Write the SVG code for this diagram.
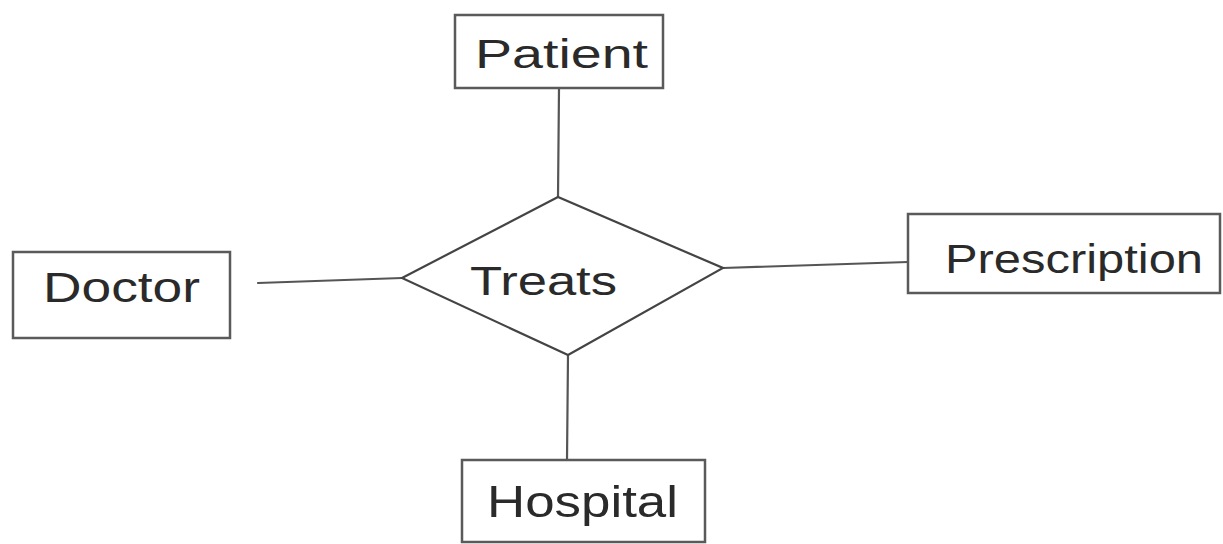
<svg xmlns="http://www.w3.org/2000/svg" width="1223" height="544" viewBox="0 0 1223 544">
<style>
.box{fill:#fff;stroke:#5a5a5a;stroke-width:2.5}
.dia{fill:#fff;stroke:#444;stroke-width:2.2}
.conn{stroke:#555;stroke-width:2.2;fill:none;stroke-linecap:round}
.lbl{font-family:"Liberation Sans","DejaVu Sans",sans-serif;fill:#2a2a2a;font-weight:normal}
</style>
<rect width="1223" height="544" fill="#fff"/>
<g id="connectors">
<line class="conn" x1="559" y1="88" x2="558" y2="197"/>
<line class="conn" x1="258" y1="283" x2="402" y2="278"/>
<line class="conn" x1="723" y1="268" x2="908" y2="262"/>
<line class="conn" x1="568" y1="355" x2="567" y2="460"/>
</g>
<g id="patient">
<rect class="box" x="455" y="15" width="208" height="73"/>
<text class="lbl" x="475" y="68" font-size="40" textLength="173" lengthAdjust="spacingAndGlyphs">Patient</text>
</g>
<g id="doctor">
<rect class="box" x="13" y="252" width="217" height="86"/>
<text class="lbl" x="43" y="302" font-size="42" textLength="157" lengthAdjust="spacingAndGlyphs">Doctor</text>
</g>
<g id="treats">
<polygon class="dia" points="402,278 558,197 723,268 568,355"/>
<text class="lbl" x="470" y="295" font-size="40" textLength="147" lengthAdjust="spacingAndGlyphs">Treats</text>
</g>
<g id="prescription">
<rect class="box" x="908" y="214" width="312" height="79"/>
<text class="lbl" x="945" y="273" font-size="40" textLength="258" lengthAdjust="spacingAndGlyphs">Prescription</text>
</g>
<g id="hospital">
<rect class="box" x="462" y="460" width="243" height="82"/>
<text class="lbl" x="487" y="517" font-size="44" textLength="191" lengthAdjust="spacingAndGlyphs">Hospital</text>
</g>
</svg>
